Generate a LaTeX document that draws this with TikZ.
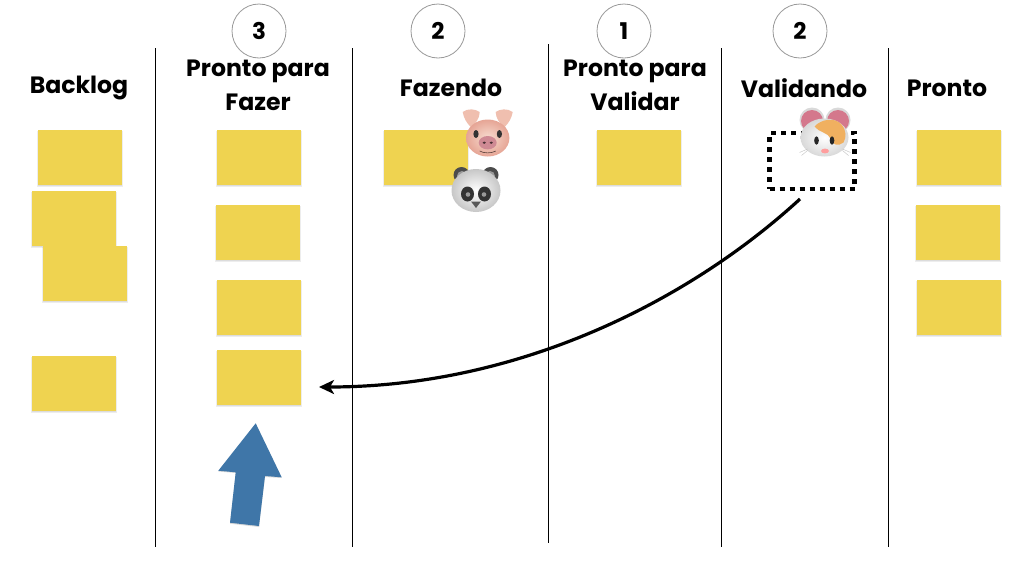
\documentclass[tikz,border=0pt]{standalone}
\usepackage{fontspec}
\setmainfont{Poppins}[BoldFont={Poppins Bold}]
\usetikzlibrary{arrows.meta}
\definecolor{sticky}{HTML}{EFD350}
\definecolor{bluearrow}{HTML}{3F76A8}
\definecolor{pigskin}{HTML}{F7DCD0}
\definecolor{pigdark}{HTML}{E6A595}
\definecolor{pigear}{HTML}{F0BFAF}
\definecolor{snout}{HTML}{CF8A94}
\definecolor{earpink}{HTML}{D4788C}
\definecolor{hamorange}{HTML}{F0B060}
\tikzset{
  x=1pt,y=-1pt,
  lane/.style={draw=black,line width=1pt},
  limit/.style={circle,draw=gray!80,line width=0.8pt,minimum size=54pt,inner sep=0pt,font=\bfseries\fontsize{23}{23}\selectfont},
  head/.style={font=\bfseries\fontsize{23.6}{34}\selectfont,align=center,inner sep=0pt,text depth=0pt},
  card/.style={fill=sticky,draw=none,inner sep=0pt,anchor=north west,minimum width=83.5pt,minimum height=55pt},
  cardshadow/.style={fill=black,opacity=0.07,draw=none},
  pics/pig/.style={code={
    \fill[pigear] (-25,-26) .. controls (-20,-30) and (-12,-29) .. (-8,-26) .. controls (-8,-20) and (-12,-14) .. (-17,-11) .. controls (-21,-15) and (-24,-20) .. (-25,-26) -- cycle;
    \fill[pigear] (25,-26) .. controls (20,-30) and (12,-29) .. (8,-26) .. controls (8,-20) and (12,-14) .. (17,-11) .. controls (21,-15) and (24,-20) .. (25,-26) -- cycle;
    \shade[inner color=pigskin,outer color=pigdark] (0,0) ellipse [x radius=21.7,y radius=18.5];
    \fill[black!80] (-11.7,-4) ellipse [x radius=2.6,y radius=4];
    \fill[black!80] (11.7,-4) ellipse [x radius=2.6,y radius=4];
    \fill[snout] (0,4.7) ellipse [x radius=9,y radius=6.7];
    \fill[black!65!snout] (-3.5,4.7) ellipse [x radius=1.7,y radius=1.2];
    \fill[black!65!snout] (3.5,4.7) ellipse [x radius=1.7,y radius=1.2];
    \draw[black!60!pigdark,line width=0.6pt] (-8,13) .. controls (-4,15.5) and (4,15.5) .. (8,13);
  }},
  pics/panda/.style={code={
    \fill[black!70] (-14.5,-15.5) circle [radius=8];
    \fill[black!70] (14.5,-15.5) circle [radius=8];
    \fill[black!40] (-14,-14.5) circle [radius=5];
    \fill[black!40] (14,-14.5) circle [radius=5];
    \shade[inner color=white,outer color=black!22] (0,0) ellipse [x radius=24.5,y radius=21.5];
    \fill[black!80] (-8.5,3.5) ellipse [x radius=6.5,y radius=7.5];
    \fill[black!80] (8.5,3.5) ellipse [x radius=6.5,y radius=7.5];
    \fill[black!40] (-8,4) circle [radius=2.3];
    \fill[black!40] (8,4) circle [radius=2.3];
    \fill[black!65] (-5,11) -- (5,11) -- (0,17.5) -- cycle;
  }},
  pics/hamster/.style={code={
    \fill[black!15] (-12.5,-17.5) circle [radius=12.5];
    \fill[black!15] (13.5,-17.5) circle [radius=12.5];
    \fill[earpink] (-12.5,-16.5) circle [radius=11];
    \fill[earpink] (13.5,-16.5) circle [radius=11];
    \shade[inner color=white,outer color=black!15] (0,0) ellipse [x radius=24,y radius=19];
    \fill[hamorange] (-10,-11) .. controls (-4,-18) and (10,-21) .. (17,-13) .. controls (22,-7) and (22,0) .. (19,5) .. controls (14,9) and (8,8) .. (6,1) .. controls (4,-5) and (-6,-5) .. (-10,-11) -- cycle;
    \fill[black!85] (-8,3) ellipse [x radius=2.3,y radius=4.2];
    \fill[black!85] (7.5,3) ellipse [x radius=2.3,y radius=4.2];
    \fill[pink!70!red!80!white] (0.5,13.5) ellipse [x radius=4,y radius=2.4];
    \draw[black!25,line width=0.4pt] (-17,13) -- (-23,18) (-17,11.5) -- (-25,15) (18,13) -- (24,18) (18,11.5) -- (26,15);
  }}
}
\newcommand{\stickynote}[3]{%
  \fill[cardshadow] (#2-1,#3+1) rectangle ++(85.5,56);
  \fill[cardshadow] (#2-0.5,#3+1) rectangle ++(84.5,55);
  \node[card] (#1) at (#2,#3) {};
}
\begin{document}
\begin{tikzpicture}
\useasboundingbox (0,0) rectangle (1024,576);
\fill[white] (0,0) rectangle (1024,576);
% lanes
\coordinate (l1a) at (155,48); \coordinate (l1b) at (155,547);
\coordinate (l2a) at (352,48); \coordinate (l2b) at (352,547);
\coordinate (l3a) at (548,44); \coordinate (l3b) at (548,543);
\coordinate (l4a) at (721,48); \coordinate (l4b) at (721,547);
\coordinate (l5a) at (888,48); \coordinate (l5b) at (888,547);
\foreach \n in {1,...,5} \draw[lane] (l\n a) -- (l\n b);
% limits
\node[limit] (c3) at (259,31) {3};
\node[limit] (c2) at (438,31) {2};
\node[limit] (c1) at (624,31) {1};
\node[limit] (c4) at (800,31) {2};
% headers
\node[head] (h1) at (79,85) {Backlog};
\node[head] (h2) at (258,85) {Pronto para\\Fazer};
\node[head] (h3) at (451,88) {Fazendo};
\node[head] (h4) at (635,85) {Pronto para\\Validar};
\node[head] (h5) at (804,88) {Validando};
\node[head] (h6) at (947,88) {Pronto};
% stickies
\stickynote{a1}{38}{130}
\stickynote{a2}{32}{191}
\stickynote{a3}{43}{246}
\stickynote{a4}{32}{356}
\stickynote{b1}{217}{130}
\stickynote{b2}{216}{205}
\stickynote{b3}{217}{280}
\stickynote{b4}{217}{350}
\stickynote{d1}{384}{130}
\stickynote{e1}{597}{130}
\stickynote{f1}{917}{130}
\stickynote{f2}{916}{205}
\stickynote{f3}{917}{280}
% dotted card
\node[draw=black,line width=4.6pt,dash pattern=on 5pt off 5pt,minimum width=85pt,minimum height=56pt,inner sep=0pt] (box) at (812,161) {};
% emoji
\pic at (487.7,138) {pig};
\pic at (476,190.5) {panda};
\pic at (824.5,137.5) {hamster};
% blue arrow
\fill[black,opacity=0.15] (255.7,424) -- (281.7,478) -- (265,477) -- (259,527) -- (230,523.7) -- (235.7,473) -- (218.3,471.5) -- cycle;
\fill[bluearrow] (255.7,423.3) -- (281.7,477.3) -- (265,476) -- (259,526) -- (230,522.7) -- (235.7,472.3) -- (218.3,470.7) -- cycle;
% connector
\coordinate (from) at (800,199);
\coordinate (to) at (319,387);
\draw[-{Stealth[length=15pt,width=14pt,inset=4pt]},line width=3.2pt] (from) .. controls (690,300) and (520,387) .. (to);
\end{tikzpicture}
\end{document}
